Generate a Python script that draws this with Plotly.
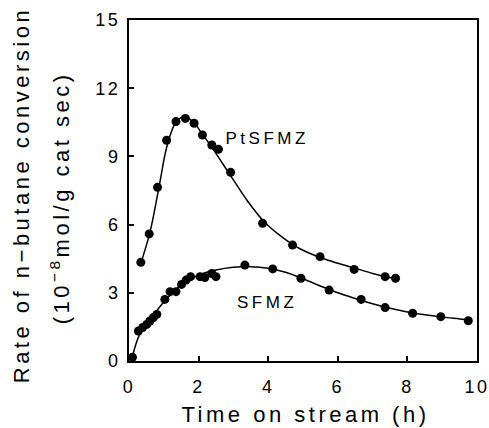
import plotly.graph_objects as go

# PtSFMZ measured points
pt_x = [0.34, 0.58, 0.82, 1.08, 1.35, 1.62, 1.87, 2.11, 2.38, 2.57, 2.92, 3.84, 4.70, 5.49, 6.47, 7.36, 7.66]
pt_y = [4.34, 5.59, 7.64, 9.71, 10.53, 10.67, 10.46, 9.94, 9.50, 9.31, 8.30, 6.06, 5.10, 4.59, 4.03, 3.71, 3.64]
# PtSFMZ fitted curve
pt_fit_x = [0.34, 0.6, 0.85, 1.1, 1.35, 1.6, 1.85, 2.1, 2.4, 2.9, 3.4, 3.9, 4.4, 4.9, 5.5, 6.0, 6.5, 7.0, 7.4, 7.7]
pt_fit_y = [4.3, 5.65, 7.55, 9.5, 10.5, 10.75, 10.5, 10.0, 9.35, 8.2, 7.05, 6.1, 5.45, 4.95, 4.55, 4.3, 4.08, 3.85, 3.7, 3.63]

# SFMZ measured points
s_x = [0.10, 0.27, 0.39, 0.51, 0.60, 0.70, 0.80, 1.03, 1.18, 1.35, 1.51, 1.64, 1.77, 2.04, 2.18, 2.38, 2.50,
       3.33, 4.13, 4.94, 5.75, 6.67, 7.36, 8.15, 8.96, 9.75]
s_y = [0.16, 1.32, 1.47, 1.61, 1.76, 1.91, 2.05, 2.71, 3.05, 3.05, 3.37, 3.56, 3.71, 3.71, 3.67, 3.85, 3.71,
       4.22, 4.05, 3.64, 3.12, 2.71, 2.35, 2.10, 1.95, 1.77]
# SFMZ fitted curve
s_fit_x = [0.1, 0.3, 0.6, 1.0, 1.5, 2.0, 2.5, 3.0, 3.5, 4.0, 4.5, 5.0, 5.5, 6.0, 6.5, 7.0, 7.5, 8.0, 8.5, 9.0, 9.5, 9.8]
s_fit_y = [0.2, 1.15, 1.8, 2.6, 3.35, 3.78, 4.0, 4.12, 4.15, 4.08, 3.9, 3.62, 3.3, 3.0, 2.75, 2.52, 2.32, 2.16, 2.03, 1.93, 1.85, 1.8]

x_ticks = [0, 2, 4, 6, 8, 10]
y_ticks = [0, 3, 6, 9, 12, 15]

FONT = "Liberation Sans, Arial, Helvetica, sans-serif"

fig = go.Figure()
for fx, fy in [(pt_fit_x, pt_fit_y), (s_fit_x, s_fit_y)]:
    fig.add_trace(go.Scatter(x=fx, y=fy, mode="lines", line=dict(color="black", width=1.5, shape="spline", smoothing=1.0),
                             hoverinfo="skip", showlegend=False, cliponaxis=False))
for mx, my in [(pt_x, pt_y), (s_x, s_y)]:
    fig.add_trace(go.Scatter(x=mx, y=my, mode="markers", marker=dict(color="black", size=9),
                             showlegend=False, cliponaxis=False))

axis_common = dict(showgrid=False, zeroline=False, showline=True, linecolor="black", linewidth=2,
                   mirror=True, ticks="inside", ticklen=5, tickwidth=1.5, tickcolor="black", automargin=False,
                   tickfont=dict(family=FONT, size=18, color="black"))
fig.update_xaxes(range=[0, 10], tickvals=x_ticks, ticktext=[str(v) for v in x_ticks], ticklabelstandoff=8, **axis_common)
fig.update_yaxes(range=[0, 15], tickvals=y_ticks, ticktext=[str(v) for v in y_ticks], ticklabelstandoff=3, **axis_common)

anns = [
    dict(text="PtSFMZ", x=3.97, y=9.77, xref="x", yref="y", showarrow=False, font=dict(family=FONT, size=17, color="black")),
    dict(text="SFMZ", x=3.97, y=2.57, xref="x", yref="y", showarrow=False, font=dict(family=FONT, size=17, color="black")),
    dict(text="Time on stream (h)", x=(305 - 129) / 348, y=(361 - 414) / 341, xref="paper", yref="paper",
         showarrow=False, xanchor="center", yanchor="middle", borderpad=0, font=dict(family=FONT, size=22, color="black")),
    dict(text="Rate of n\u2212butane conversion", x=(21 - 129) / 348, y=(361 - 195) / 341, xref="paper", yref="paper",
         textangle=-90, showarrow=False, xanchor="center", yanchor="middle", font=dict(family=FONT, size=22, color="black")),
    dict(text="(10<sup>\u22128</sup>mol/g cat sec)", x=(60 - 129) / 348, y=(361 - 198) / 341, xref="paper", yref="paper",
         textangle=-90, showarrow=False, xanchor="center", yanchor="middle", font=dict(family=FONT, size=22, color="black")),
]

fig.update_layout(width=489, height=428, margin=dict(l=129, r=12, t=20, b=67, autoexpand=False),
                  plot_bgcolor="white", paper_bgcolor="white", annotations=anns,
                  font=dict(family=FONT, color="black"))

post = ("var s=document.createElement('style');"
        "s.innerHTML='.main-svg text{letter-spacing:3.5px;} .main-svg .xtick text, .main-svg .ytick text{letter-spacing:2.5px;}';"
        "document.head.appendChild(s);")
fig.write_html("out.html", post_script=post)
